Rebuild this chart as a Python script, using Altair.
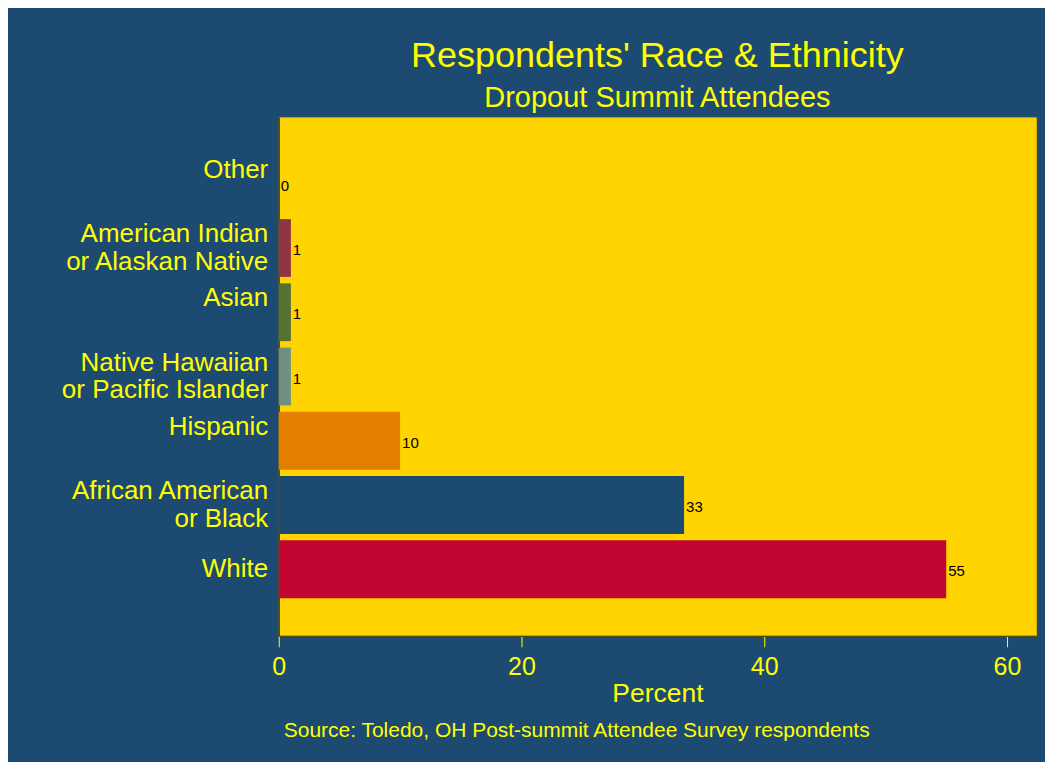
import altair as alt
import pandas as pd

# Data (| marks a line break in the axis label)
categories = [
    "Other",
    "American Indian|or Alaskan Native",
    "Asian",
    "Native Hawaiian|or Pacific Islander",
    "Hispanic",
    "African American|or Black",
    "White",
]
percents = [0, 1, 1, 1, 10, 33.4, 55]
bar_colors = ["#1c4a70", "#8f3644", "#557233", "#6e8f82", "#e27f00", "#1c4a70", "#c20632"]

df = pd.DataFrame({"group": categories, "pct": percents})

BG = "#1c4a70"
YELLOW = "#ffff00"
PLOT = "#ffd400"
W, H = 758, 519

y_enc = alt.Y(
    "group:N",
    sort=categories,
    scale=alt.Scale(paddingInner=0.1, paddingOuter=0.585),
    axis=alt.Axis(
        title=None,
        labelExpr="split(datum.label, '|')",
        labelFont="Liberation Sans",
        labelFontSize=26,
        labelLineHeight=28,
        labelColor=YELLOW,
        labelPadding=11,
        labelOffset={"condition": {"test": "datum.value == 'White'", "value": 0}, "value": -14},
        ticks=False,
        domainColor="#2a2a10",
        labelLimit=400,
    ),
)

bars = alt.Chart(df).mark_bar().encode(
    x=alt.X(
        "pct:Q",
        scale=alt.Scale(domain=[0, 62.4], nice=False, zero=True),
        axis=alt.Axis(
            values=[0, 20, 40, 60],
            title="Percent",
            titleFont="Liberation Sans",
            titleFontSize=26.5,
            titleFontWeight="normal",
            titleColor=YELLOW,
            titlePadding=1,
            labelFont="Liberation Sans",
            labelFontSize=25,
            labelColor=YELLOW,
            labelPadding=8,
            labelFlush=False,
            tickColor=YELLOW,
            tickSize=11,
            grid=False,
            domainColor="#2a2a10",
        ),
    ),
    y=y_enc,
    color=alt.Color(
        "group:N",
        scale=alt.Scale(domain=categories, range=bar_colors),
        legend=None,
    ),
)

labels = alt.Chart(df).mark_text(
    align="left", baseline="middle", dx=2, dy=2, font="Liberation Sans", fontSize=15, color="black"
).encode(
    x="pct:Q",
    y=alt.Y("group:N", sort=categories),
    text=alt.Text("pct:Q", format="d"),
)

source = alt.Chart(pd.DataFrame({"t": ["Source: Toledo, OH Post-summit Attendee Survey respondents"]})).mark_text(
    align="left", baseline="middle", font="Liberation Sans", fontSize=21, color=YELLOW
).encode(
    x=alt.value(5),
    y=alt.value(614),
    text="t:N",
)

chart = (
    alt.layer(bars, labels, source)
    .properties(
        width=W,
        height=H,
        background=BG,
        padding={"left": 271, "top": 109, "right": 9, "bottom": 126},
        autosize=alt.AutoSizeParams(type="none"),
        title=alt.TitleParams(
            text="Respondents' Race & Ethnicity",
            subtitle="Dropout Summit Attendees",
            anchor="middle",
            frame="group",
            font="Liberation Sans",
            fontSize=36,
            fontWeight="normal",
            color=YELLOW,
            subtitleFont="Liberation Sans",
            subtitleFontSize=29,
            subtitleColor=YELLOW,
            subtitlePadding=9,
            offset=3,
        ),
    )
    .configure_view(fill=PLOT, stroke="#d9b000", strokeWidth=1)
)

chart.save("out.html", embed_options={"renderer": "svg", "actions": False})
